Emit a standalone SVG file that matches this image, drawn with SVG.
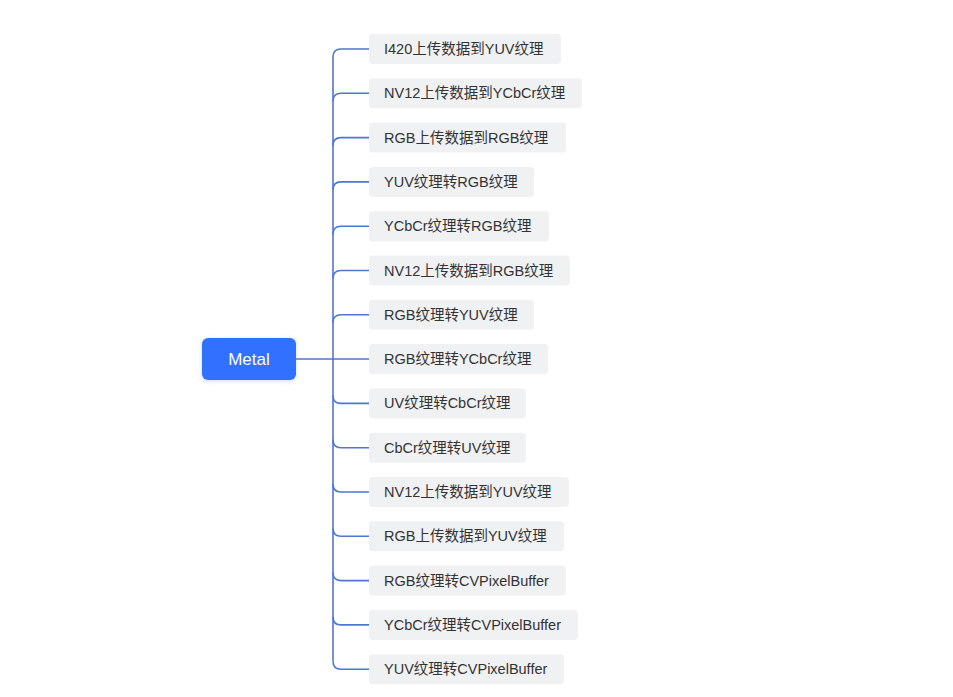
<svg xmlns="http://www.w3.org/2000/svg" width="953" height="697" viewBox="0 0 953 697">
<style>
.leaf rect{fill:#f0f1f3;}
.leaf text{font-family:"Liberation Sans","Noto Sans CJK SC",sans-serif;font-size:14.5px;fill:#333333;dominant-baseline:central;}
.root text{font-family:"Liberation Sans","Noto Sans CJK SC",sans-serif;font-size:17px;fill:#ffffff;dominant-baseline:central;text-anchor:middle;}
.conn path{fill:none;stroke:#4f76d1;stroke-width:1.6;}
</style>
<defs>
<filter id="sh" x="-20%" y="-30%" width="140%" height="160%">
<feDropShadow dx="0" dy="1" stdDeviation="2" flood-color="#3370ff" flood-opacity="0.25"/>
</filter>
</defs>
<rect width="953" height="697" fill="#ffffff"/>
<g id="connectors" class="conn">
<path d="M296,359 L369,359"/>
<path d="M333,57 L333,661.2"/>
<path d="M333,57 Q333,49 341,49 L369,49"/>
<path d="M333,101.3 Q333,93.3 341,93.3 L369,93.3"/>
<path d="M333,145.6 Q333,137.6 341,137.6 L369,137.6"/>
<path d="M333,189.9 Q333,181.9 341,181.9 L369,181.9"/>
<path d="M333,234.2 Q333,226.2 341,226.2 L369,226.2"/>
<path d="M333,278.5 Q333,270.5 341,270.5 L369,270.5"/>
<path d="M333,322.8 Q333,314.8 341,314.8 L369,314.8"/>
<path d="M333,395.4 Q333,403.4 341,403.4 L369,403.4"/>
<path d="M333,439.7 Q333,447.7 341,447.7 L369,447.7"/>
<path d="M333,484 Q333,492 341,492 L369,492"/>
<path d="M333,528.3 Q333,536.3 341,536.3 L369,536.3"/>
<path d="M333,572.6 Q333,580.6 341,580.6 L369,580.6"/>
<path d="M333,616.9 Q333,624.9 341,624.9 L369,624.9"/>
<path d="M333,661.2 Q333,669.2 341,669.2 L369,669.2"/>
</g>
<g id="root" class="root">
<rect x="202" y="338" width="94" height="42" rx="6" fill="#3370ff" filter="url(#sh)"/>
<text x="249" y="359">Metal</text>
</g>
<g id="n1" class="leaf"><rect x="369" y="34" width="192" height="30" rx="4"/><text x="384" y="49">I420上传数据到YUV纹理</text></g>
<g id="n2" class="leaf"><rect x="369" y="78.3" width="213" height="30" rx="4"/><text x="384" y="93.3">NV12上传数据到YCbCr纹理</text></g>
<g id="n3" class="leaf"><rect x="369" y="122.6" width="197" height="30" rx="4"/><text x="384" y="137.6">RGB上传数据到RGB纹理</text></g>
<g id="n4" class="leaf"><rect x="369" y="166.9" width="165" height="30" rx="4"/><text x="384" y="181.9">YUV纹理转RGB纹理</text></g>
<g id="n5" class="leaf"><rect x="369" y="211.2" width="180" height="30" rx="4"/><text x="384" y="226.2">YCbCr纹理转RGB纹理</text></g>
<g id="n6" class="leaf"><rect x="369" y="255.5" width="201" height="30" rx="4"/><text x="384" y="270.5">NV12上传数据到RGB纹理</text></g>
<g id="n7" class="leaf"><rect x="369" y="299.8" width="165" height="30" rx="4"/><text x="384" y="314.8">RGB纹理转YUV纹理</text></g>
<g id="n8" class="leaf"><rect x="369" y="344" width="179" height="30" rx="4"/><text x="384" y="359">RGB纹理转YCbCr纹理</text></g>
<g id="n9" class="leaf"><rect x="369" y="388.4" width="157" height="30" rx="4"/><text x="384" y="403.4">UV纹理转CbCr纹理</text></g>
<g id="n10" class="leaf"><rect x="369" y="432.7" width="157" height="30" rx="4"/><text x="384" y="447.7">CbCr纹理转UV纹理</text></g>
<g id="n11" class="leaf"><rect x="369" y="477" width="200" height="30" rx="4"/><text x="384" y="492">NV12上传数据到YUV纹理</text></g>
<g id="n12" class="leaf"><rect x="369" y="521.3" width="195" height="30" rx="4"/><text x="384" y="536.3">RGB上传数据到YUV纹理</text></g>
<g id="n13" class="leaf"><rect x="369" y="565.6" width="197" height="30" rx="4"/><text x="384" y="580.6">RGB纹理转CVPixelBuffer</text></g>
<g id="n14" class="leaf"><rect x="369" y="609.9" width="209" height="30" rx="4"/><text x="384" y="624.9">YCbCr纹理转CVPixelBuffer</text></g>
<g id="n15" class="leaf"><rect x="369" y="654.2" width="195" height="30" rx="4"/><text x="384" y="669.2">YUV纹理转CVPixelBuffer</text></g>
</svg>
